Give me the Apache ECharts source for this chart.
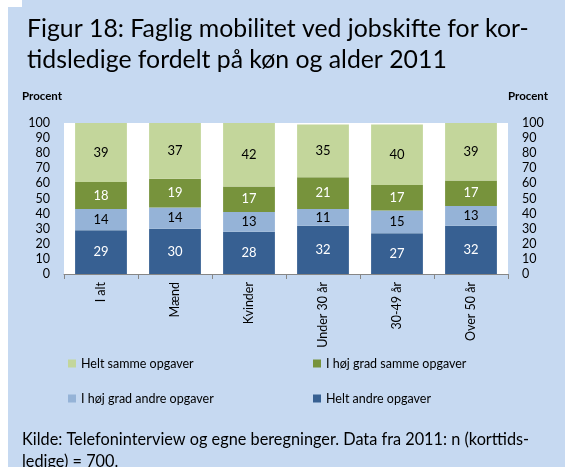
<!DOCTYPE html>
<html>
<head>
<meta charset="utf-8">
<script src="https://cdn.jsdelivr.net/npm/echarts@6/dist/echarts.min.js"></script>
<style>
  html, body { margin: 0; padding: 0; background: #fff; }
  #bg { position: absolute; left: 8px; top: 0; width: 557px; height: 467px; background: #c6d9f1; }
  #notch { position: absolute; left: 8px; top: 0; width: 14px; height: 7px; background: #fff; }
  #chart { position: absolute; left: 0; top: 0; width: 565px; height: 467px; }
</style>
</head>
<body>
<div id="bg"></div>
<div id="notch"></div>
<div id="chart"></div>
<script>
// ---- DATA ----
const categories = ['I alt', 'Mænd', 'Kvinder', 'Under 30 år', '30-49 år', 'Over 50 år'];
const heltAndre = [29, 30, 28, 32, 27, 32];
const hoejGradAndre = [14, 14, 13, 11, 15, 13];
const hoejGradSamme = [18, 19, 17, 21, 17, 17];
const heltSamme = [39, 37, 42, 35, 40, 39];
const yTicks = [0, 10, 20, 30, 40, 50, 60, 70, 80, 90, 100];

const FONT = 'Lato, "Open Sans", sans-serif';

// ---- CHART ----
const chart = echarts.init(document.getElementById('chart'), null, { renderer: 'canvas' });

function barSeries(name, data, color, labelColor) {
  return {
    name: name,
    type: 'bar',
    stack: 'total',
    barWidth: '70%',
    data: data,
    itemStyle: { color: color },
    label: {
      show: true,
      position: 'inside',
      color: labelColor,
      fontFamily: FONT,
      fontSize: 13
    }
  };
}

const yAxisBase = {
  type: 'value',
  min: yTicks[0],
  max: yTicks[yTicks.length - 1],
  interval: yTicks[1] - yTicks[0],
  axisLine: { show: false },
  axisTick: { show: false },
  splitLine: { show: false },
  axisLabel: { color: '#000', fontFamily: FONT, fontSize: 12.5, margin: 14 }
};

const legendBase = {
  orient: 'vertical', top: 357, itemGap: 22, padding: 0,
  itemWidth: 8, itemHeight: 8, icon: 'rect',
  textStyle: { fontFamily: FONT, fontSize: 12.5, color: '#000' }
};

chart.setOption({
  backgroundColor: 'transparent',
  animation: false,
  title: {
    text: 'Figur 18: Faglig mobilitet ved jobskifte for kor-\ntidsledige fordelt på køn og alder 2011',
    left: 22,
    top: 9,
    textStyle: { fontFamily: FONT, fontWeight: 'normal', fontSize: 24.8, lineHeight: 31, color: '#000' }
  },
  graphic: [
    { type: 'text', left: 22, top: 90, style: { text: 'Procent', font: 'bold 11.5px ' + FONT, fill: '#000' } },
    { type: 'text', right: 17, top: 90, style: { text: 'Procent', font: 'bold 11.5px ' + FONT, fill: '#000' } },
    { type: 'text', left: 22, top: 429, style: {
      text: 'Kilde: Telefoninterview og egne beregninger. Data fra 2011: n (korttids-\nledige) = 700.',
      font: '16.3px ' + FONT, lineHeight: 22, fill: '#000' } }
  ],
  grid: {
    left: 64, right: 57, top: 123, bottom: 193,
    show: true, backgroundColor: '#fff', borderWidth: 0
  },
  legend: [
    Object.assign({}, legendBase, { left: 68, data: ['Helt samme opgaver', 'I høj grad andre opgaver'] }),
    Object.assign({}, legendBase, { left: 313, data: ['I høj grad samme opgaver', 'Helt andre opgaver'] })
  ],
  xAxis: {
    type: 'category',
    data: categories,
    axisLine: { lineStyle: { color: '#868686', width: 1 } },
    axisTick: { show: true, length: 5, lineStyle: { color: '#868686' } },
    axisLabel: { rotate: 90, color: '#000', fontFamily: FONT, fontSize: 12.5, margin: 8 }
  },
  yAxis: [
    Object.assign({}, yAxisBase, { position: 'left' }),
    Object.assign({}, yAxisBase, { position: 'right' })
  ],
  series: [
    barSeries('Helt andre opgaver', heltAndre, '#376092', '#fff'),
    barSeries('I høj grad andre opgaver', hoejGradAndre, '#95b3d7', '#000'),
    barSeries('I høj grad samme opgaver', hoejGradSamme, '#77933c', '#fff'),
    barSeries('Helt samme opgaver', heltSamme, '#c3d69b', '#000')
  ]
});
</script>
</body>
</html>
